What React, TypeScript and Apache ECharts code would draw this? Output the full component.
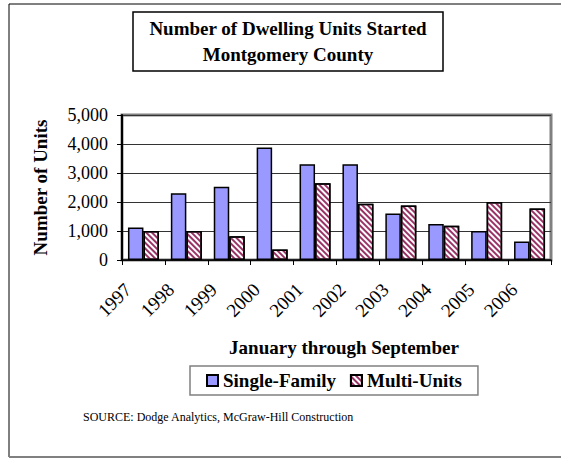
import React, { useEffect, useRef } from "react";
import * as echarts from "echarts";

const years = ["1997", "1998", "1999", "2000", "2001", "2002", "2003", "2004", "2005", "2006"];
const singleFamily = [1120, 2300, 2530, 3880, 3300, 3300, 1600, 1240, 1000, 640];
const multiUnits = [1000, 1000, 820, 360, 2650, 1940, 1880, 1180, 2000, 1780];
const titleLines = ["Number of Dwelling Units Started", "Montgomery County"];
const xTitle = "January through September";
const yTitle = "Number of Units";
const sourceText = "SOURCE: Dodge Analytics, McGraw-Hill Construction";

const SERIF = "'Liberation Serif', 'Times New Roman', serif";

export default function App() {
  const ref = useRef<HTMLDivElement>(null);
  useEffect(() => {
    document.body.style.margin = "0";
    const chart = echarts.init(ref.current!, null, { renderer: "svg" });
    const stripe = {
      symbol: "rect",
      symbolSize: 1,
      dashArrayX: [1, 0],
      dashArrayY: [2, 2],
      rotation: Math.PI / 4,
      color: "#993366",
    };
    chart.setOption({
      animation: false,
      backgroundColor: "#ffffff",
      textStyle: { fontFamily: SERIF },
      grid: {
        left: 122,
        right: 10,
        top: 115,
        bottom: 199,
        show: true,
        borderColor: "#808080",
        borderWidth: 3,
        backgroundColor: "transparent",
      },
      legend: {
        left: 190,
        top: 366,
        orient: "horizontal",
        itemWidth: 11,
        itemHeight: 11,
        itemGap: 14,
        padding: [5, 16, 5, 16],
        borderColor: "#808080",
        borderWidth: 1.5,
        textStyle: { fontFamily: SERIF, fontSize: 19, fontWeight: "bold", color: "#000" },
        data: [
          { name: "Single-Family", icon: "rect" },
          { name: "Multi-Units", icon: "rect" },
        ],
      },
      xAxis: {
        type: "category",
        data: years,
        axisLine: { lineStyle: { color: "#000", width: 1.5 } },
        axisTick: { show: true, length: 5, lineStyle: { color: "#000" } },
        axisLabel: {
          rotate: 45,
          margin: 11,
          padding: [0, 22, 0, 0],
          fontSize: 19,
          color: "#000",
          fontFamily: SERIF,
        },
      },
      yAxis: {
        type: "value",
        min: 0,
        max: 5000,
        interval: 1000,
        name: yTitle,
        nameLocation: "middle",
        nameGap: 72,
        nameRotate: 90,
        nameTextStyle: { fontFamily: SERIF, fontSize: 19, fontWeight: "bold", color: "#000" },
        axisLine: { show: true, lineStyle: { color: "#000", width: 2 } },
        axisTick: { show: true, length: 5, lineStyle: { color: "#000" } },
        axisLabel: {
          fontSize: 18,
          color: "#000",
          margin: 14,
          fontFamily: SERIF,
          formatter: (v: number) => v.toLocaleString("en-US"),
        },
        splitLine: { lineStyle: { color: "#333", width: 1 } },
      },
      series: [
        {
          name: "Single-Family",
          type: "bar",
          data: singleFamily,
          barWidth: 15.5,
          barGap: "0%",
          itemStyle: { color: "#9999FF", borderColor: "#000", borderWidth: 1.5 },
        },
        {
          name: "Multi-Units",
          type: "bar",
          data: multiUnits,
          barWidth: 15.5,
          barGap: "0%",
          itemStyle: { color: "#ffffff", borderColor: "#000", borderWidth: 1.5, decal: stripe },
        },
      ],
      graphic: [
        { type: "line", shape: { x1: 9, y1: 4, x2: 561, y2: 4 }, style: { stroke: "#000", lineWidth: 1 } },
        { type: "line", shape: { x1: 9, y1: 4, x2: 9, y2: 457 }, style: { stroke: "#000", lineWidth: 1 } },
        { type: "line", shape: { x1: 9, y1: 457, x2: 561, y2: 457 }, style: { stroke: "#808080", lineWidth: 2 } },
        {
          type: "rect",
          shape: { x: 133, y: 12, width: 310, height: 59 },
          style: { fill: "#fff", stroke: "#000", lineWidth: 1.5 },
        },
        {
          type: "text",
          x: 288,
          y: 28,
          style: {
            text: titleLines[0],
            fontFamily: SERIF,
            fontSize: 19,
            fontWeight: "bold",
            fill: "#000",
            align: "center",
            verticalAlign: "middle",
          },
        },
        {
          type: "text",
          x: 288,
          y: 54,
          style: {
            text: titleLines[1],
            fontFamily: SERIF,
            fontSize: 19,
            fontWeight: "bold",
            fill: "#000",
            align: "center",
            verticalAlign: "middle",
          },
        },
        {
          type: "text",
          x: 344,
          y: 347,
          style: {
            text: xTitle,
            fontFamily: SERIF,
            fontSize: 19,
            fontWeight: "bold",
            fill: "#000",
            align: "center",
            verticalAlign: "middle",
          },
        },
        {
          type: "text",
          x: 83,
          y: 417,
          style: {
            text: sourceText,
            fontFamily: SERIF,
            fontSize: 12,
            fill: "#000",
            align: "left",
            verticalAlign: "middle",
          },
        },
      ],
    });
    return () => chart.dispose();
  }, []);
  return <div ref={ref} style={{ position: "fixed", left: 0, top: 0, width: 561, height: 459 }} />;
}
